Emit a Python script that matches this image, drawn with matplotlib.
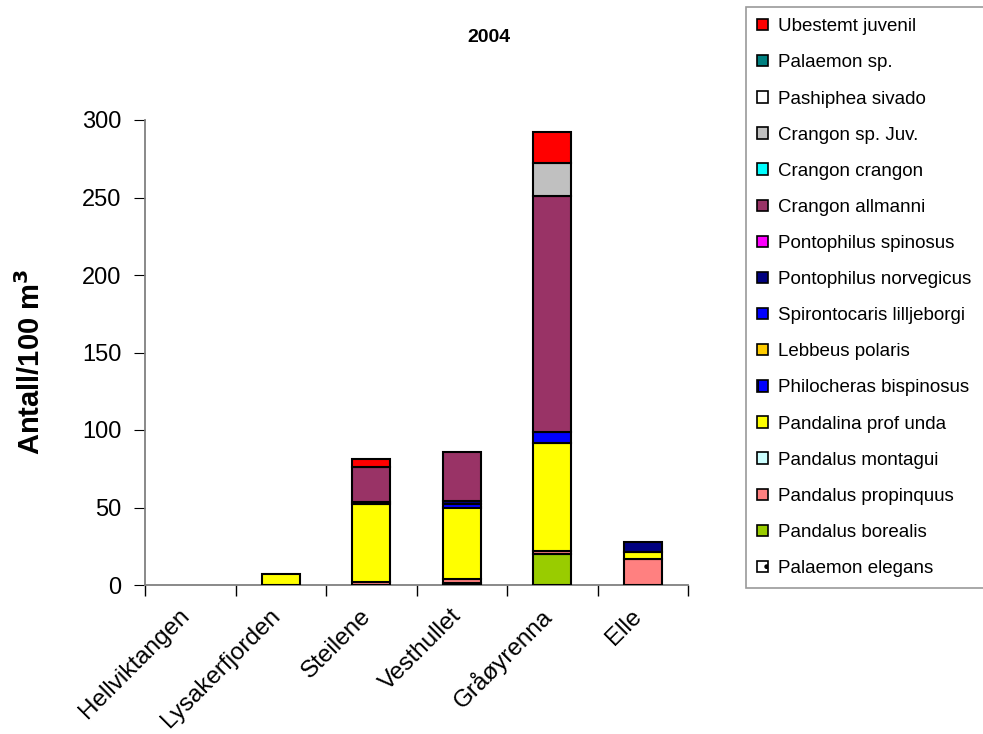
import numpy as np
import matplotlib
matplotlib.use("Agg")
import matplotlib.pyplot as plt
from matplotlib.patches import Patch
from matplotlib.transforms import ScaledTranslation

plt.rcParams['font.family'] = ['Liberation Sans', 'DejaVu Sans']

# sites on the x axis
sites = ["Hellviktangen", "Lysakerfjorden", "Steilene", "Vesthullet", "Gråøyrenna", "Elle"]

# species values per site (antall/100 m3), stacked bottom to top
palaemon_elegans = [0, 0, 0, 1.5, 0, 0]
pandalus_borealis = [0, 0, 0, 0, 20, 0]
pandalus_propinquus = [0, 0, 2, 2.5, 2, 16.5]
pandalus_montagui = [0, 0, 0, 0, 0, 0]
pandalina_profunda = [0, 7, 50.5, 46, 69.5, 5]
philocheras_bispinosus = [0, 0, 0, 0, 0, 0]
lebbeus_polaris = [0, 0, 0, 0, 0, 0]
spirontocaris_lilljeborgi = [0, 0, 0, 2.5, 7, 0]
pontophilus_norvegicus = [0, 0, 1, 1.5, 0, 6.5]
pontophilus_spinosus = [0, 0, 0, 0, 0, 0]
crangon_allmanni = [0, 0, 22.5, 31.5, 152.5, 0]
crangon_crangon = [0, 0, 0, 0, 0, 0]
crangon_juv = [0, 0, 0, 0, 21, 0]
pashiphea_sivado = [0, 0, 0, 0, 0, 0]
palaemon_sp = [0, 0, 0, 0, 0, 0]
ubestemt_juvenil = [0, 0, 5, 0, 20, 0]

# (name, values, color, hatch) bottom to top
series = [
    ("Palaemon elegans", palaemon_elegans, "#FFFFFF", "."),
    ("Pandalus borealis", pandalus_borealis, "#99CC00", None),
    ("Pandalus propinquus", pandalus_propinquus, "#FF8080", None),
    ("Pandalus montagui", pandalus_montagui, "#CCFFFF", None),
    ("Pandalina prof unda", pandalina_profunda, "#FFFF00", None),
    ("Philocheras bispinosus", philocheras_bispinosus, "#0000FF", "+"),
    ("Lebbeus polaris", lebbeus_polaris, "#FFCC00", None),
    ("Spirontocaris lilljeborgi", spirontocaris_lilljeborgi, "#0000FF", None),
    ("Pontophilus norvegicus", pontophilus_norvegicus, "#000080", None),
    ("Pontophilus spinosus", pontophilus_spinosus, "#FF00FF", None),
    ("Crangon allmanni", crangon_allmanni, "#993366", None),
    ("Crangon crangon", crangon_crangon, "#00FFFF", None),
    ("Crangon sp. Juv.", crangon_juv, "#C0C0C0", None),
    ("Pashiphea sivado", pashiphea_sivado, "#FFFFFF", None),
    ("Palaemon sp.", palaemon_sp, "#008080", None),
    ("Ubestemt juvenil", ubestemt_juvenil, "#FF0000", None),
]

fig = plt.figure(figsize=(9.83, 7.34), dpi=100)
ax = fig.add_axes([145 / 983, 1 - 585 / 734, (688 - 145) / 983, (585 - 120) / 734])

x = np.arange(len(sites))
bottom = np.zeros(len(sites))
for name, vals, col, hatch in series:
    vals = np.array(vals, dtype=float)
    mask = vals > 0
    if mask.any():
        ax.bar(x[mask], vals[mask], bottom=bottom[mask], width=0.42, color=col,
               edgecolor="black", linewidth=1.5, hatch=hatch, zorder=3)
    bottom += vals

ax.set_xlim(-0.5, len(sites) - 0.5)
ax.set_ylim(0, 300)
ax.set_yticks(range(0, 301, 50))
ax.tick_params(axis="y", direction="out", length=8, color="black", labelsize=17, pad=9)

ax.set_xticks(x)
ax.set_xticklabels(sites, rotation=45, ha="right", va="center", rotation_mode="anchor", fontsize=17.5)
ax.tick_params(axis="x", which="major", length=0, pad=20)
ax.set_xticks(np.arange(-0.5, len(sites), 1), minor=True)
ax.tick_params(axis="x", which="minor", direction="out", length=8, color="black", width=1)
shift = ScaledTranslation(-0.04, 0, fig.dpi_scale_trans)
for lab in ax.get_xticklabels():
    lab.set_transform(lab.get_transform() + shift)

for s in ["top", "right"]:
    ax.spines[s].set_visible(False)
for s in ["left", "bottom"]:
    ax.spines[s].set_color("#808080")
    ax.spines[s].set_linewidth(1.3)

fig.text(489 / 983, 1 - 37 / 734, "2004", ha="center", va="center", fontsize=14, fontweight="bold")
fig.text(31 / 983, 1 - 362 / 734, "Antall/100 m$^\\mathbf{3}$", rotation=90, ha="center", va="center",
         fontsize=21, fontweight="bold")

handles = [Patch(facecolor=col, edgecolor="black", hatch=hatch, linewidth=1.2, label=name)
           for name, vals, col, hatch in series[::-1]]
leg = fig.legend(handles=handles, loc="upper left", bbox_to_anchor=(746 / 983, 1 - 7 / 734, 0.27, 0),
                 mode="expand", fontsize=13.5, frameon=True, fancybox=False, borderaxespad=0,
                 handlelength=0.55, handleheight=0.55, handletextpad=0.55,
                 labelspacing=1.02, borderpad=0.6)
leg.get_frame().set_edgecolor("#808080")
leg.get_frame().set_linewidth(1.2)

fig.savefig("out.png", dpi=100)
